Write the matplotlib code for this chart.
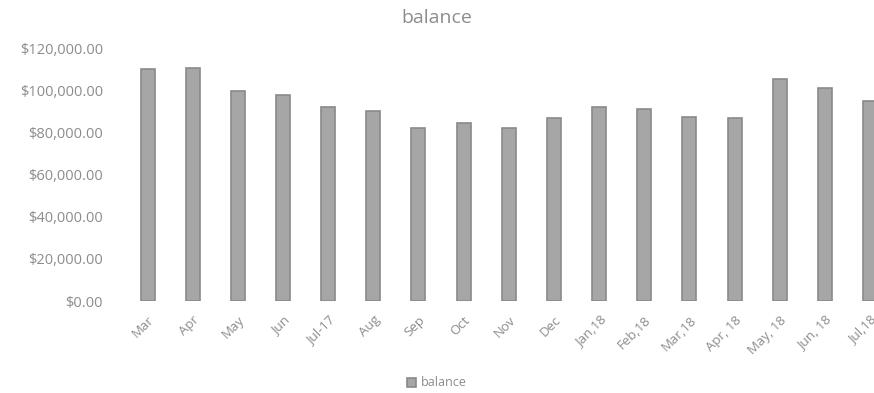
import matplotlib
matplotlib.use("Agg")
import matplotlib.pyplot as plt
from matplotlib.ticker import FuncFormatter

categories = ["Mar", "Apr", "May", "Jun", "Jul-17", "Aug", "Sep", "Oct", "Nov", "Dec",
              "Jan,18", "Feb,18", "Mar,18", "Apr, 18", "May, 18", "Jun, 18", "Jul,18"]
balance = [110000, 110500, 99500, 97700, 92000, 90000, 82000, 84400, 82200, 87000,
           92000, 91000, 87200, 86600, 105200, 101200, 94700]
yticks = [0, 20000, 40000, 60000, 80000, 100000, 120000]

txt = "#8c8c8c"
plt.rcParams['font.family'] = ['Open Sans', 'DejaVu Sans']

fig = plt.figure(figsize=(8.74, 3.93), dpi=100)
ax = fig.add_axes([125 / 874, 1 - 301 / 393, (892.6 - 125) / 874, (301 - 48) / 393])

x = list(range(len(categories)))
ax.bar(x, balance, width=0.31, color="#a6a6a6", edgecolor="#8a8a8a", linewidth=1.2,
       label="balance")
ax.set_xlim(-0.5, len(categories) - 0.5)
ax.set_ylim(0, 120000)
ax.set_yticks(yticks)
ax.yaxis.set_major_formatter(FuncFormatter(lambda v, p: "${:,.2f}".format(v)))
ax.set_xticks(x)
ax.set_xticklabels(categories, rotation=45, ha="right", rotation_mode="anchor")
ax.tick_params(axis="both", length=0, colors=txt)
ax.tick_params(axis="y", pad=16, labelsize=10.5)
ax.tick_params(axis="x", pad=9, labelsize=9.5)
for s in ax.spines.values():
    s.set_visible(False)

fig.text(0.5, 1 - 18 / 393, "balance", ha="center", va="center", color=txt, fontsize=14)
fig.legend(loc="center", bbox_to_anchor=(0.5, 1 - 383 / 393), frameon=False,
           labelcolor=txt, fontsize=9, handlelength=0.7, handleheight=0.7,
           handletextpad=0.4)

fig.savefig("out.png", dpi=100)
